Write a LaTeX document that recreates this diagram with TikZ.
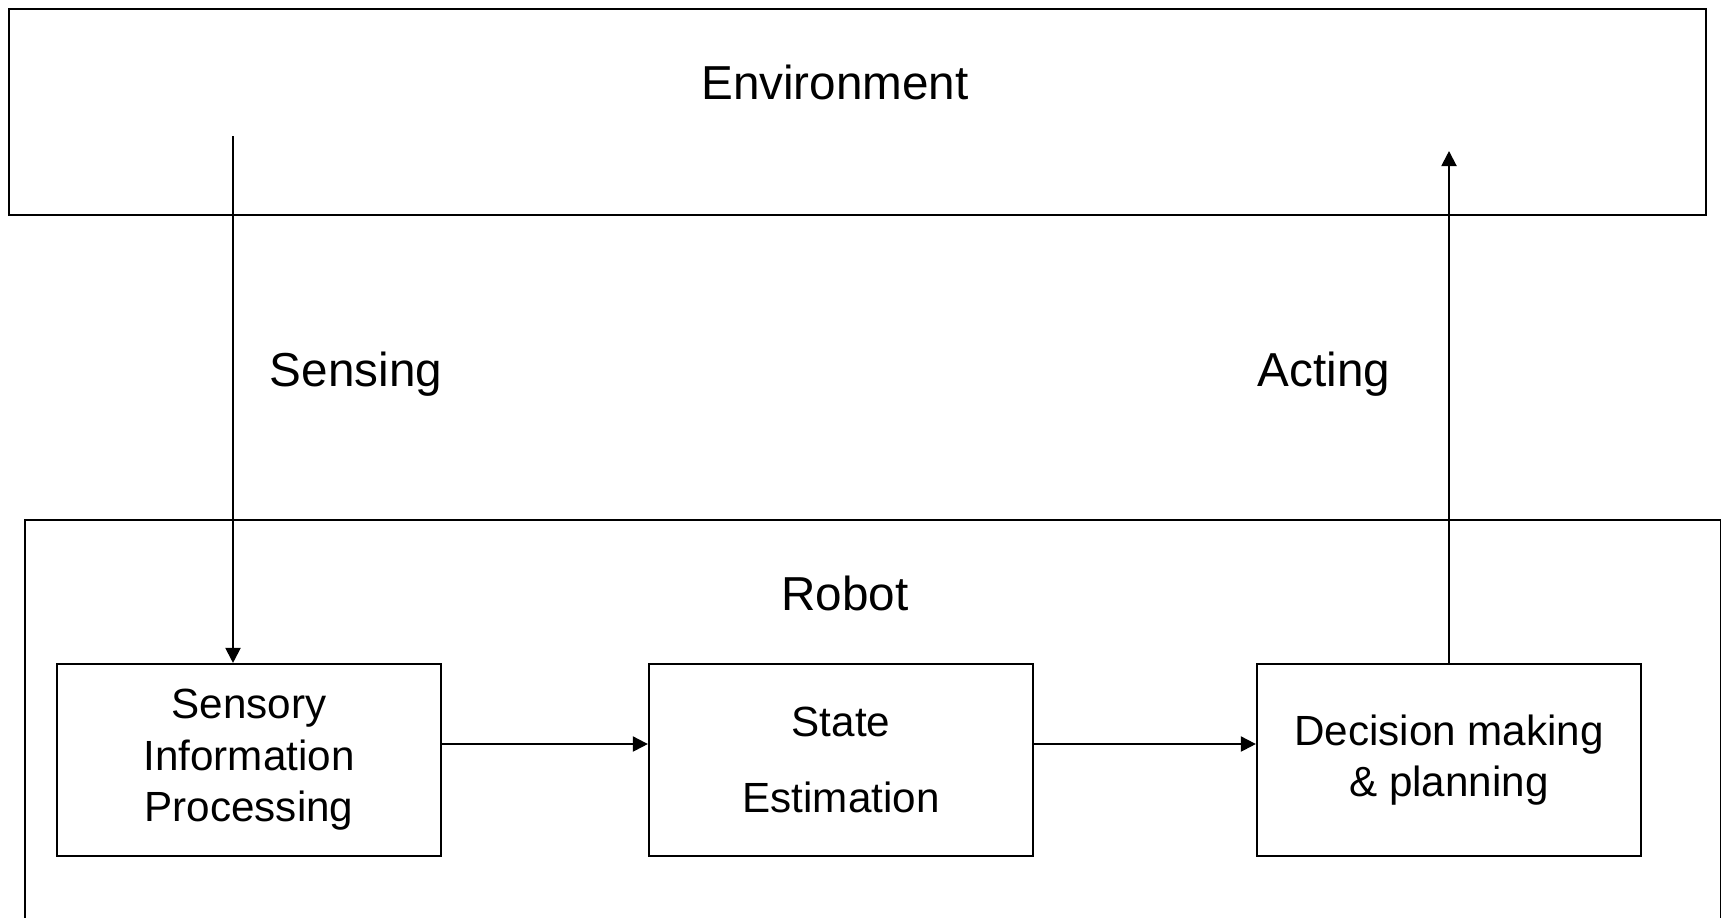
\documentclass[tikz,border=0pt]{standalone}
\usepackage{fontspec}
\setmainfont{Liberation Sans}
\usepackage{tikz}
\usetikzlibrary{arrows.meta}
\tikzstyle{Frame}=[draw,line width=0.57pt,inner sep=0pt]
\tikzstyle{Block}=[draw,line width=0.57pt,inner sep=0pt,
minimum width=3.84cm,minimum height=1.92cm,align=center,
font=\fontsize{12}{14.65}\selectfont]
\tikzstyle{Label}=[anchor=base,inner sep=0pt,
font=\fontsize{13.55}{16}\selectfont]
\tikzstyle{Edge}=[draw,line width=0.57pt,
-{Triangle[length=4.3pt,width=4.3pt]}]

\begin{document}
\begin{tikzpicture}[x=0.01cm,y=-0.01cm]
        \useasboundingbox(0,0)rectangle(1721,917);
        \clip(0,0)rectangle(1721,917);
        \node[Frame,minimum width=16.96cm,minimum height=2.06cm](env)at(857,112){};
        \node[Frame,minimum width=16.95cm,minimum height=4.80cm](robot)at(872.5,760){};
        \node[Label](envl)at(835,99){Environment};
        \node[Label](robotl)at(845,610){Robot};
        \node[Label](sensing)at(356,386){Sensing};
        \node[Label](acting)at(1324,386){Acting};
        \node[Block](sip)at(249,760){Sensory\\Information\\Processing};
        \node[Block](se)at(841,760){State\\[6.9pt]Estimation};
        \node[Block](dmp)at(1449,760){Decision making\\\& planning};
        \coordinate(sin)at(233,136);
        \coordinate(aout)at(1449,151);
        \coordinate(row)at(0,744);
        \draw[Edge](sin)--(sin|-sip.north);
        \draw[Edge](sip.east|-row)--(se.west|-row);
        \draw[Edge](se.east|-row)--(dmp.west|-row);
        \draw[Edge](dmp.north)--(aout);
    \end{tikzpicture}
\end{document}
